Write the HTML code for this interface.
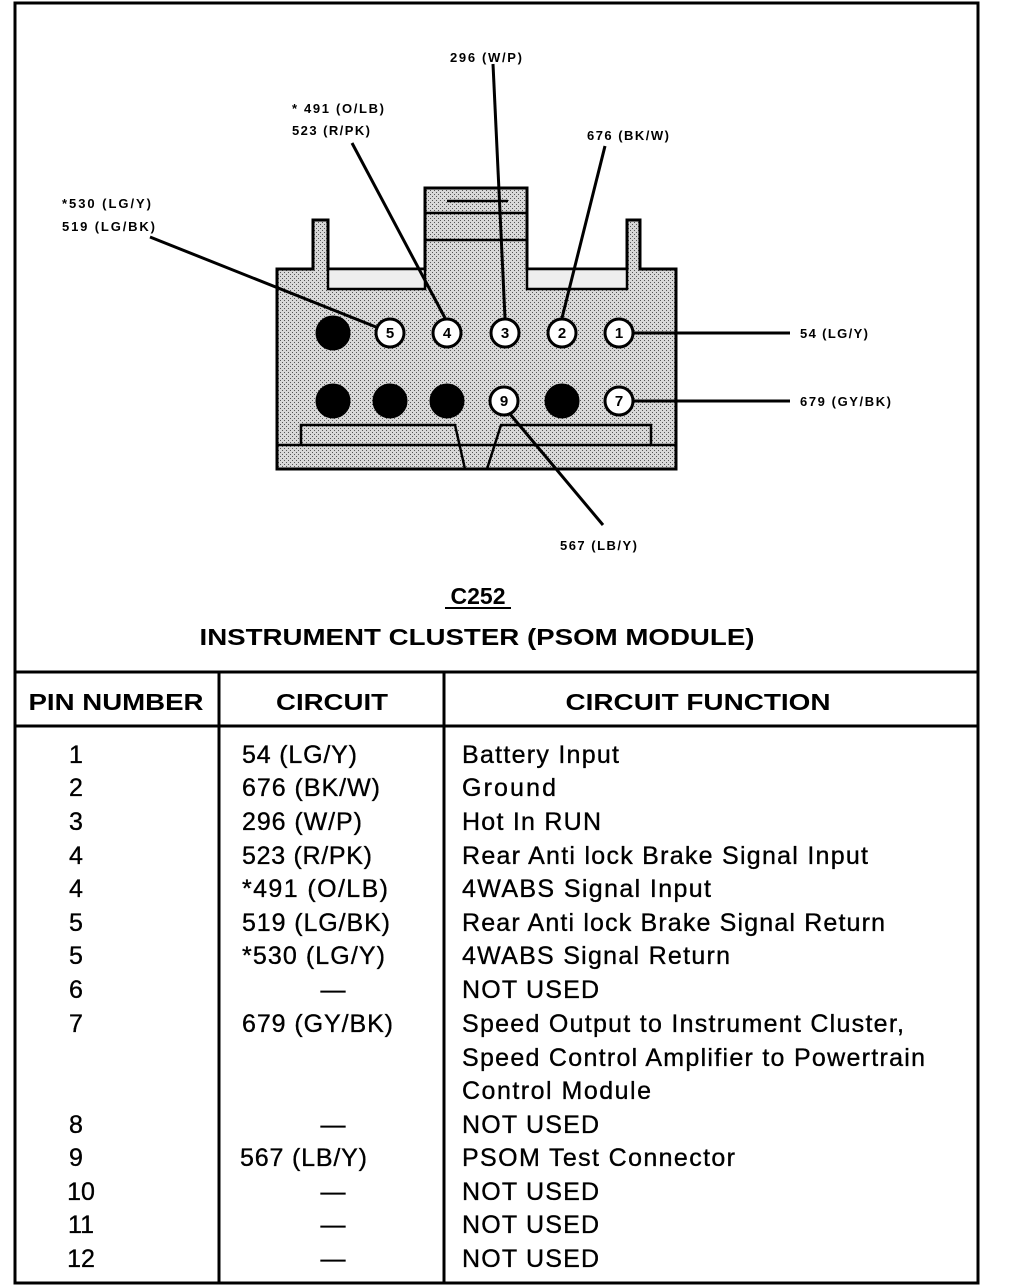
<!DOCTYPE html>
<html><head><meta charset="utf-8"><style>
html,body{margin:0;padding:0;background:#fff;}
svg{display:block;}
text{font-family:"Liberation Sans",Arial,sans-serif;fill:#000;}
</style></head><body>
<svg width="1024" height="1288" viewBox="0 0 1024 1288" xmlns="http://www.w3.org/2000/svg">
<defs>
<pattern id="dots" width="4" height="4" patternUnits="userSpaceOnUse">
<rect width="4" height="4" fill="#d8d8d8"/>
<rect x="0" y="0" width="1" height="1" fill="#555"/>
<rect x="2" y="2" width="1" height="1" fill="#555"/>
</pattern>
</defs>
<rect x="15" y="3" width="963" height="1280" fill="none" stroke="#000" stroke-width="3"/>
<line x1="15" y1="672" x2="978" y2="672" stroke="#000" stroke-width="3"/>
<line x1="15" y1="726" x2="978" y2="726" stroke="#000" stroke-width="3"/>
<line x1="219" y1="672" x2="219" y2="1283" stroke="#000" stroke-width="3"/>
<line x1="444" y1="672" x2="444" y2="1283" stroke="#000" stroke-width="3"/>

<path d="M277,269 L313,269 L313,220 L328,220 L328,269 L425,269 L425,188 L527,188 L527,269 L627,269 L627,220 L640,220 L640,269 L676,269 L676,469 L277,469 Z" fill="url(#dots)" stroke="#000" stroke-width="3"/>
<rect x="328" y="269" width="97" height="20" fill="#eee" stroke="#000" stroke-width="2.5"/>
<rect x="527" y="269" width="100" height="20" fill="#eee" stroke="#000" stroke-width="2.5"/>
<line x1="425" y1="213" x2="527" y2="213" stroke="#000" stroke-width="2.5"/>
<line x1="425" y1="240" x2="527" y2="240" stroke="#000" stroke-width="2.5"/>
<line x1="447" y1="201" x2="508" y2="201" stroke="#000" stroke-width="2.5"/>
<line x1="277" y1="445" x2="676" y2="445" stroke="#000" stroke-width="2.5"/>
<path d="M301,445 L301,425 L455,425 L465,469" fill="none" stroke="#000" stroke-width="2.5"/>
<path d="M651,445 L651,425 L501,425 L487,469" fill="none" stroke="#000" stroke-width="2.5"/>

<g stroke="#000" stroke-width="3" fill="none">
<line x1="493" y1="64" x2="505" y2="318"/>
<line x1="352" y1="143" x2="445" y2="318"/>
<line x1="605" y1="146" x2="562" y2="318"/>
<line x1="150" y1="237" x2="376" y2="327"/>
<line x1="634" y1="333" x2="790" y2="333"/>
<line x1="634" y1="401" x2="790" y2="401"/>
<line x1="510" y1="414" x2="603" y2="525"/>
</g>

<g stroke="#000" stroke-width="3">
<circle cx="333" cy="333" r="16" fill="#000"/>
<circle cx="333" cy="401" r="16" fill="#000"/>
<circle cx="390" cy="401" r="16" fill="#000"/>
<circle cx="447" cy="401" r="16" fill="#000"/>
<circle cx="562" cy="401" r="16" fill="#000"/>
<circle cx="390" cy="333" r="14" fill="#fff"/>
<circle cx="447" cy="333" r="14" fill="#fff"/>
<circle cx="505" cy="333" r="14" fill="#fff"/>
<circle cx="562" cy="333" r="14" fill="#fff"/>
<circle cx="619" cy="333" r="14" fill="#fff"/>
<circle cx="504" cy="401" r="14" fill="#fff"/>
<circle cx="619" cy="401" r="14" fill="#fff"/>
</g>
<g font-size="15" font-weight="bold" text-anchor="middle">
<text x="390" y="338">5</text>
<text x="447" y="338">4</text>
<text x="505" y="338">3</text>
<text x="562" y="338">2</text>
<text x="619" y="338">1</text>
<text x="504" y="406">9</text>
<text x="619" y="406">7</text>
</g>

<g font-size="13" font-weight="bold" lengthAdjust="spacingAndGlyphs">
<text x="450" y="62" textLength="72">296 (W/P)</text>
<text x="292" y="113" textLength="92">* 491 (O/LB)</text>
<text x="292" y="135" textLength="78">523 (R/PK)</text>
<text x="587" y="140" textLength="82">676 (BK/W)</text>
<text x="62" y="208" textLength="89">*530 (LG/Y)</text>
<text x="62" y="231" textLength="93">519 (LG/BK)</text>
<text x="800" y="338" textLength="68">54 (LG/Y)</text>
<text x="800" y="406" textLength="91">679 (GY/BK)</text>
<text x="560" y="550" textLength="77">567 (LB/Y)</text>
</g>

<text x="478" y="604" font-size="23" font-weight="bold" text-anchor="middle">C252</text>
<line x1="445" y1="608" x2="511" y2="608" stroke="#000" stroke-width="2"/>
<text x="477" y="645" font-size="23" font-weight="bold" text-anchor="middle" textLength="555" lengthAdjust="spacingAndGlyphs">INSTRUMENT CLUSTER (PSOM MODULE)</text>

<g font-size="23" font-weight="bold" text-anchor="middle">
<text x="116" y="710" textLength="175" lengthAdjust="spacingAndGlyphs">PIN NUMBER</text>
<text x="332" y="710" textLength="112" lengthAdjust="spacingAndGlyphs">CIRCUIT</text>
<text x="698" y="710" textLength="265" lengthAdjust="spacingAndGlyphs">CIRCUIT FUNCTION</text>
</g>

<g font-size="25" stroke="#000" stroke-width="0.35">
<g text-anchor="middle">
<text x="76" y="763">1</text>
<text x="76" y="796">2</text>
<text x="76" y="830">3</text>
<text x="76" y="864">4</text>
<text x="76" y="897">4</text>
<text x="76" y="931">5</text>
<text x="76" y="964">5</text>
<text x="76" y="998">6</text>
<text x="76" y="1032">7</text>
<text x="76" y="1133">8</text>
<text x="76" y="1166">9</text>
<text x="81" y="1200">10</text>
<text x="81" y="1233">11</text>
<text x="81" y="1267">12</text>
<text x="333" y="998">—</text>
<text x="333" y="1133">—</text>
<text x="333" y="1200">—</text>
<text x="333" y="1233">—</text>
<text x="333" y="1267">—</text>
</g>
<g lengthAdjust="spacingAndGlyphs">
<text x="242" y="763" textLength="115">54 (LG/Y)</text>
<text x="242" y="796" textLength="138">676 (BK/W)</text>
<text x="242" y="830" textLength="120">296 (W/P)</text>
<text x="242" y="864" textLength="130">523 (R/PK)</text>
<text x="242" y="897" textLength="146">*491 (O/LB)</text>
<text x="242" y="931" textLength="148">519 (LG/BK)</text>
<text x="242" y="964" textLength="143">*530 (LG/Y)</text>
<text x="242" y="1032" textLength="151">679 (GY/BK)</text>
<text x="240" y="1166" textLength="127">567 (LB/Y)</text>

<text x="462" y="763" textLength="157">Battery Input</text>
<text x="462" y="796" textLength="94">Ground</text>
<text x="462" y="830" textLength="139">Hot In RUN</text>
<text x="462" y="864" textLength="406">Rear Anti lock Brake Signal Input</text>
<text x="462" y="897" textLength="249">4WABS Signal Input</text>
<text x="462" y="931" textLength="423">Rear Anti lock Brake Signal Return</text>
<text x="462" y="964" textLength="268">4WABS Signal Return</text>
<text x="462" y="998" textLength="137">NOT USED</text>
<text x="462" y="1032" textLength="442">Speed Output to Instrument Cluster,</text>
<text x="462" y="1066" textLength="463">Speed Control Amplifier to Powertrain</text>
<text x="462" y="1099" textLength="189">Control Module</text>
<text x="462" y="1133" textLength="137">NOT USED</text>
<text x="462" y="1166" textLength="273">PSOM Test Connector</text>
<text x="462" y="1200" textLength="137">NOT USED</text>
<text x="462" y="1233" textLength="137">NOT USED</text>
<text x="462" y="1267" textLength="137">NOT USED</text>
</g>
</g>
</svg>
</body></html>
